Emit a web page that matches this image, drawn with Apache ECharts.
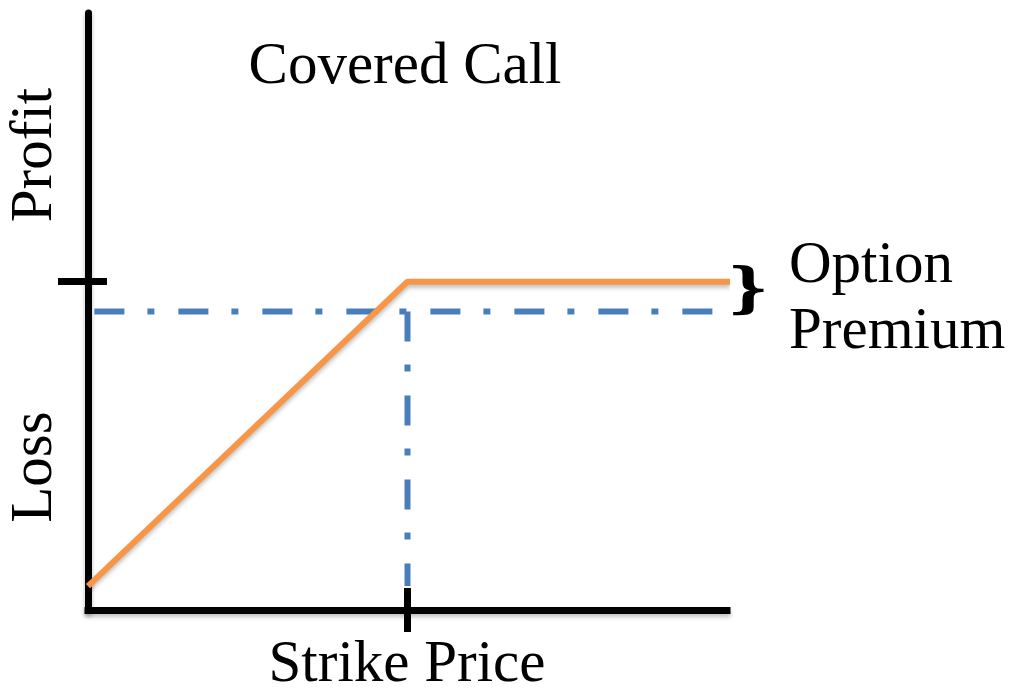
<!DOCTYPE html>
<html>
<head>
<meta charset="utf-8">
<script src="https://cdn.jsdelivr.net/npm/echarts@6/dist/echarts.min.js"></script>
<style>
  html, body { margin: 0; background: #fff; }
  #chart { width: 1017px; height: 690px; }
</style>
</head>
<body>
<div id="chart"></div>
<script>
// payoff of the covered call (stock price -> profit)
const payoffX = [0, 50, 100.5];
const payoffY = [4, 55, 55];

// premium level and strike guide lines
const premiumX = [1, 101];
const premiumY = [50, 50];
const strikeX = [50, 50];
const strikeY = [50, 4];

// tick positions
const xTicks = [50];
const yTicks = [55];

const serif = '"Liberation Serif", "DejaVu Serif", serif';
const zip = (xs, ys) => xs.map((x, i) => [x, ys[i]]);

const chart = echarts.init(document.getElementById('chart'));

const axisLineStyle = { color: '#000', width: 7 };
const shadow = { shadowColor: 'rgba(0,0,0,0.25)', shadowBlur: 4, shadowOffsetY: 3 };

const baseX = {
    type: 'value', min: 0, max: 100, position: 'bottom',
    splitLine: { show: false }, axisLabel: { show: false }
};
const baseY = {
    type: 'value', min: 0, max: 100, position: 'left',
    splitLine: { show: false }, axisLabel: { show: false }
};

chart.setOption({
    animation: false,
    grid: { left: 88, right: 290, top: 13, bottom: 80 },
    xAxis: [
        Object.assign({}, baseX, {
            axisLine: { show: true, lineStyle: Object.assign({ cap: 'square' }, axisLineStyle, shadow) },
            axisTick: { show: true, customValues: xTicks, length: 22, lineStyle: axisLineStyle }
        }),
        Object.assign({}, baseX, {
            axisLine: { show: false },
            axisTick: { show: true, inside: true, customValues: xTicks, length: 22, lineStyle: axisLineStyle }
        })
    ],
    yAxis: [
        Object.assign({}, baseY, {
            axisLine: { show: true, lineStyle: Object.assign({}, axisLineStyle, shadow) },
            axisTick: { show: true, customValues: yTicks, length: 30, lineStyle: axisLineStyle }
        }),
        Object.assign({}, baseY, {
            axisLine: { show: false },
            axisTick: { show: true, inside: true, customValues: yTicks, length: 19, lineStyle: axisLineStyle }
        })
    ],
    series: [
        {
            type: 'line', data: zip(premiumX, premiumY), symbol: 'none', clip: false, z: 2,
            lineStyle: { color: '#4A7EBB', width: 6, type: [30, 23, 7, 24], cap: 'butt' }
        },
        {
            type: 'line', data: zip(strikeX, strikeY), symbol: 'none', clip: false, z: 2,
            lineStyle: { color: '#4A7EBB', width: 6, type: [30, 23, 7, 24], cap: 'butt' }
        },
        {
            type: 'line', data: zip(payoffX, payoffY), symbol: 'none', clip: false, z: 3,
            lineStyle: Object.assign({ color: '#F79646', width: 6 }, shadow)
        }
    ],
    graphic: [
        { type: 'text', x: 405, y: 67, style: { text: 'Covered Call', font: '59px ' + serif, fill: '#000', align: 'center', verticalAlign: 'middle' } },
        { type: 'text', x: 407, y: 665, style: { text: 'Strike Price', font: '59px ' + serif, fill: '#000', align: 'center', verticalAlign: 'middle' } },
        { type: 'text', x: 789, y: 266, style: { text: 'Option', font: '59px ' + serif, fill: '#000', align: 'left', verticalAlign: 'middle' } },
        { type: 'text', x: 789, y: 332, style: { text: 'Premium', font: '59px ' + serif, fill: '#000', align: 'left', verticalAlign: 'middle' } },
        { type: 'text', x: 35, y: 155, rotation: Math.PI / 2, style: { text: 'Profit', font: '59px ' + serif, fill: '#000', align: 'center', verticalAlign: 'middle' } },
        { type: 'text', x: 35, y: 467, rotation: Math.PI / 2, style: { text: 'Loss', font: '59px ' + serif, fill: '#000', align: 'center', verticalAlign: 'middle' } },
        { type: 'text', x: 748, y: 292, scaleX: 1.2, style: { text: '}', font: 'bold 54px "DejaVu Serif", serif', fill: '#000', align: 'center', verticalAlign: 'middle' } }
    ]
});
</script>
</body>
</html>
